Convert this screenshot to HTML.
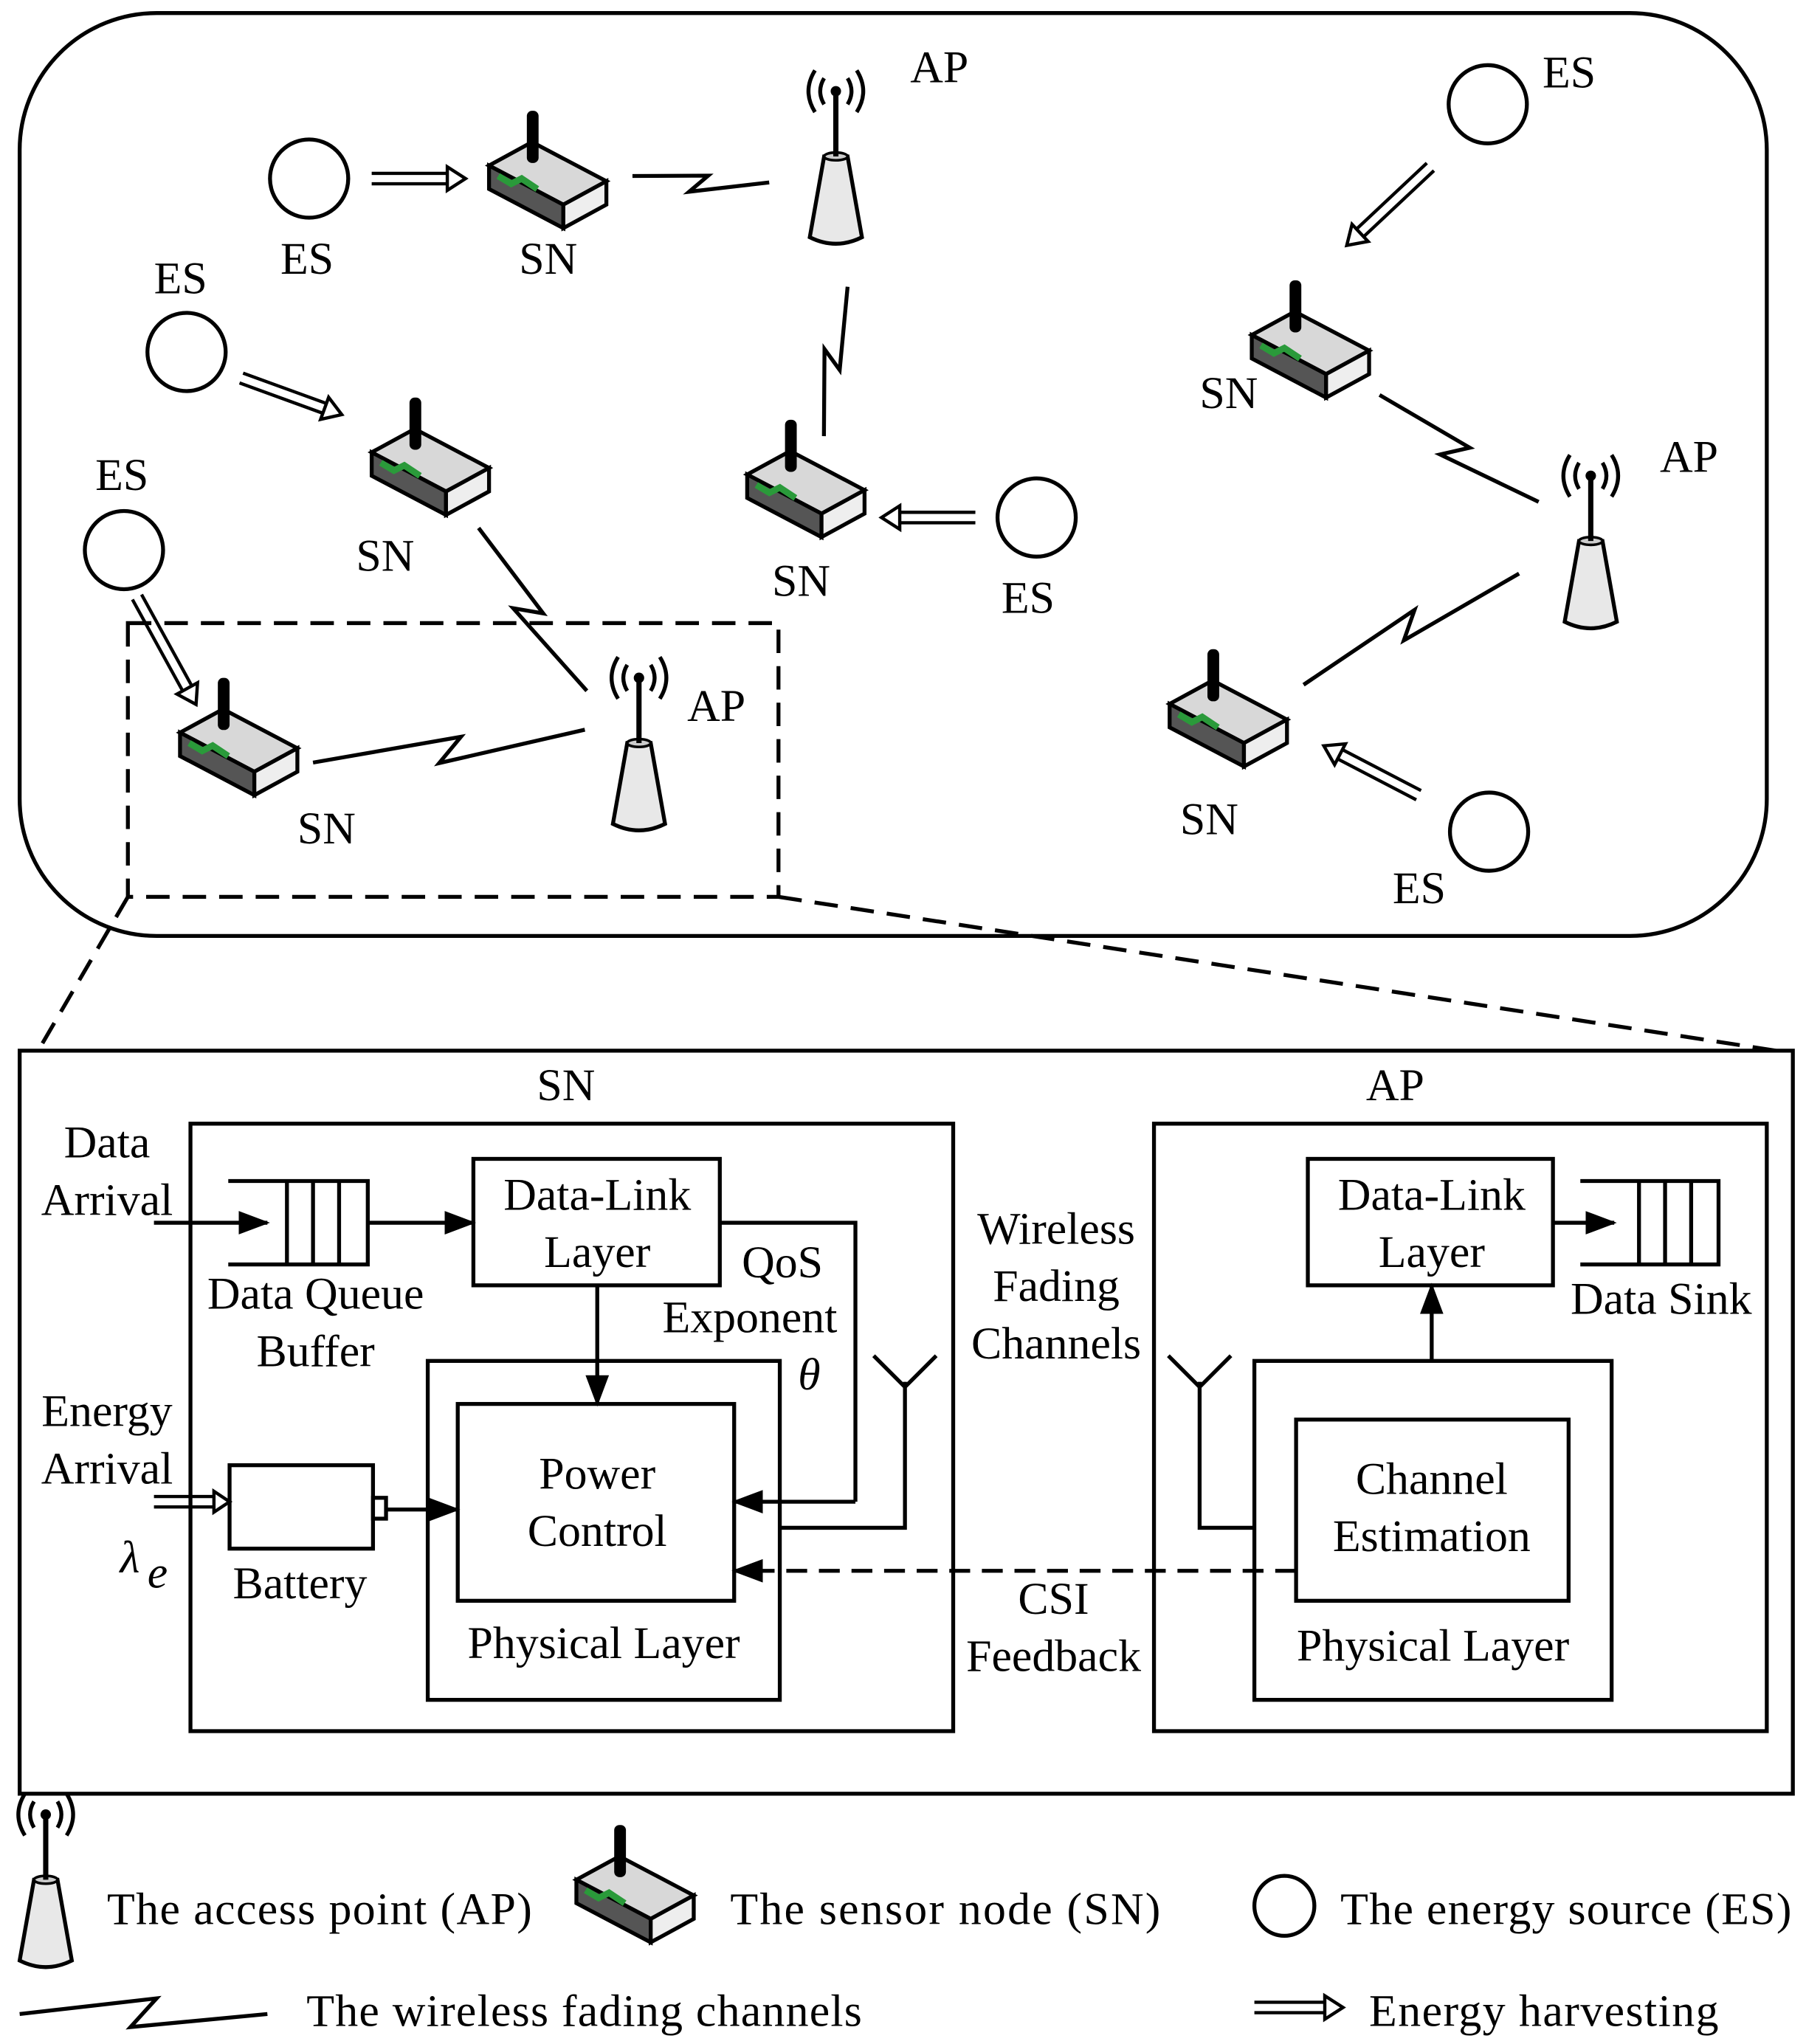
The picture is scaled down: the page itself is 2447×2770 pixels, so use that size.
<!DOCTYPE html>
<html><head><meta charset="utf-8"><style>
html,body{margin:0;padding:0;background:#fff}
svg{display:block}
text{font-family:"Liberation Serif",serif;font-size:35px;fill:#000}
</style></head><body>
<svg width="2447" height="2770" viewBox="0 0 1385 1568" xmlns="http://www.w3.org/2000/svg">
<defs>
<marker id="ahb" markerWidth="24" markerHeight="18" refX="22" refY="9" orient="auto" markerUnits="userSpaceOnUse" viewBox="0 0 24 18"><path d="M0,0 L24,9 L0,18 z" fill="#000"/></marker>
<g id="sn">
<polygon points="-45,-8 -12,-26 45,4 12,22" fill="#d8d8d8" stroke="#000" stroke-width="3"/>
<polygon points="-45,-8 12,22 12,40 -45,10" fill="#555" stroke="#000" stroke-width="3"/>
<polygon points="12,22 45,4 45,22 12,40" fill="#eee" stroke="#000" stroke-width="3"/>
<path d="M-38,0 L-28,6 L-20,2 L-8,10" stroke="#2a9a3a" stroke-width="5" fill="none"/>
<rect x="-16" y="-50" width="9" height="40" rx="4" fill="#000"/>
</g>
<g id="ap">
<path d="M-9,-20 L9,-20 L20,42 Q0,52 -20,42 Z" fill="#e8e8e8" stroke="#000" stroke-width="3"/>
<ellipse cx="0" cy="-20" rx="9" ry="3" fill="#ccc" stroke="#000" stroke-width="2"/>
<line x1="0" y1="-20" x2="0" y2="-68" stroke="#000" stroke-width="4"/>
<circle cx="0" cy="-70" r="4" fill="#000"/>
<path d="M-9,-80 Q-15,-70 -9,-60 M9,-80 Q15,-70 9,-60 M-16,-86 Q-26,-70 -16,-54 M16,-86 Q26,-70 16,-54" stroke="#000" stroke-width="3" fill="none"/>
</g>
</defs>

<rect x="15" y="10" width="1340" height="708" rx="105" fill="none" stroke="#000" stroke-width="3"/>
<rect x="98" y="478" width="499" height="210" fill="none" stroke="#000" stroke-width="3" stroke-dasharray="18,10"/>
<line x1="98" y1="688" x2="28" y2="808" stroke="#000" stroke-width="3" stroke-dasharray="18,10"/>
<line x1="597" y1="688" x2="1362" y2="806" stroke="#000" stroke-width="3" stroke-dasharray="18,10"/>

<g fill="none" stroke="#000" stroke-width="3">
<circle cx="237" cy="137" r="30"/><circle cx="143" cy="270" r="30"/><circle cx="95" cy="422" r="30"/>
<circle cx="795" cy="397" r="30"/><circle cx="1141" cy="80" r="30"/><circle cx="1142" cy="638" r="30"/>
<circle cx="985" cy="1462" r="23"/>
</g>

<g stroke="#000" stroke-width="3" fill="none">
<path transform="translate(485,135) rotate(2.7)" d="M0,0 L58,-3 L44,10 L105,0"/>
<path transform="translate(650,220) rotate(99)" d="M0,0 L64,-4 L50,10 L116,0"/>
<path transform="translate(367,405) rotate(56.4)" d="M0,0 L82,-5 L66,12 L150,0"/>
<path transform="translate(240,585) rotate(-6.9)" d="M0,0 L115,-6 L96,12 L210,0"/>
<path transform="translate(1058,303) rotate(33.9)" d="M0,0 L80,-5 L64,12 L147,0"/>
<path transform="translate(1165,440) rotate(152.7)" d="M0,0 L102,-5 L84,12 L186,0"/>
<path transform="translate(15,1545)" d="M0,0 L105,-12 L85,10 L190,0"/>
</g>

<g stroke="#000" stroke-width="2.5" fill="#fff">
<g transform="translate(285,137) rotate(0)"><path d="M0,-4 L60,-4 M0,4 L60,4" /><path d="M58,-9 L72,0 L58,9 Z"/></g>
<g transform="translate(185,290) rotate(20)"><path d="M0,-4 L70,-4 M0,4 L70,4" /><path d="M68,-9 L82,0 L68,9 Z"/></g>
<g transform="translate(105,458) rotate(61.2)"><path d="M0,-4 L82,-4 M0,4 L82,4" /><path d="M80,-9 L94,0 L80,9 Z"/></g>
<g transform="translate(748,397) rotate(180)"><path d="M0,-4 L60,-4 M0,4 L60,4" /><path d="M58,-9 L72,0 L58,9 Z"/></g>
<g transform="translate(1097,128) rotate(136.8)"><path d="M0,-4 L76,-4 M0,4 L76,4" /><path d="M74,-9 L88,0 L74,9 Z"/></g>
<g transform="translate(1088,610) rotate(207.5)"><path d="M0,-4 L70,-4 M0,4 L70,4" /><path d="M68,-9 L82,0 L68,9 Z"/></g>
<g transform="translate(962,1540)"><path d="M0,-4 L56,-4 M0,4 L56,4" /><path d="M54,-9 L68,0 L54,9 Z"/></g>
<g transform="translate(118,1152)"><path d="M0,-4 L46,-4 M0,4 L46,4" /><path d="M46,-8 L58,0 L46,8 Z"/></g>
</g>

<use href="#sn" x="420" y="135"/><use href="#sn" x="330" y="355"/><use href="#sn" x="618" y="372"/>
<use href="#sn" x="183" y="570"/><use href="#sn" x="1005" y="265"/><use href="#sn" x="942" y="548"/>
<use href="#sn" x="487" y="1450"/>
<use href="#ap" x="641" y="140"/><use href="#ap" x="490" y="590"/><use href="#ap" x="1220" y="435"/><use href="#ap" x="35" y="1462"/>

<text x="698" y="63">AP</text><text x="1183" y="67">ES</text>
<text x="215" y="210">ES</text><text x="398" y="210">SN</text>
<text x="118" y="225">ES</text><text x="920" y="313">SN</text><text x="1273" y="362">AP</text>
<text x="73" y="376">ES</text><text x="273" y="438">SN</text><text x="592" y="457">SN</text><text x="768" y="470">ES</text>
<text x="527" y="553">AP</text><text x="228" y="647">SN</text><text x="905" y="640">SN</text><text x="1068" y="693">ES</text>

<g fill="none" stroke="#000" stroke-width="3">
<rect x="15" y="806" width="1360" height="570"/>
<rect x="146" y="862" width="585" height="466"/>
<rect x="885" y="862" width="470" height="466"/>
<rect x="328" y="1044" width="270" height="260"/>
<rect x="351" y="1077" width="212" height="151"/>
<rect x="363" y="889" width="189" height="97"/>
<rect x="1003" y="889" width="188" height="97"/>
<rect x="962" y="1044" width="274" height="260"/>
<rect x="994" y="1089" width="209" height="139"/>
<path d="M175,906 L282,906 L282,970 L175,970 M220,906 L220,970 M240,906 L240,970 M260,906 L260,970"/>
<path d="M1212,906 L1318,906 L1318,970 L1212,970 M1257,906 L1257,970 M1277,906 L1277,970 M1297,906 L1297,970"/>
<rect x="176" y="1124" width="110" height="64"/>
<rect x="286" y="1149" width="10" height="16"/>
<path d="M552,938 L656,938 L656,1152"/>
<path d="M598,1172 L694,1172 L694,1060 M670,1040 L694,1064 L718,1040"/>
<path d="M962,1172 L920,1172 L920,1060 M896,1040 L920,1064 L944,1040"/>
</g>
<g stroke="#000" stroke-width="3" fill="none" marker-end="url(#ahb)">
<line x1="118" y1="938" x2="205" y2="938"/>
<line x1="282" y1="938" x2="363" y2="938"/>
<line x1="458" y1="986" x2="458" y2="1077"/>
<line x1="656" y1="1152" x2="563" y2="1152"/>
<line x1="296" y1="1158" x2="351" y2="1158"/>
<line x1="1098" y1="1044" x2="1098" y2="986"/>
<line x1="1191" y1="938" x2="1238" y2="938"/>
<line x1="994" y1="1205" x2="563" y2="1205" stroke-dasharray="16,9"/>
</g>

<text x="434" y="844" text-anchor="middle">SN</text>
<text x="1070" y="844" text-anchor="middle">AP</text>
<text x="82" y="888" text-anchor="middle">Data</text><text x="82" y="932" text-anchor="middle">Arrival</text>
<text x="458" y="928" text-anchor="middle">Data-Link</text><text x="458" y="972" text-anchor="middle">Layer</text>
<text x="600" y="980" text-anchor="middle">QoS</text><text x="575" y="1022" text-anchor="middle">Exponent</text>
<text x="612" y="1066" font-style="italic">θ</text>
<text x="242" y="1004" text-anchor="middle">Data Queue</text><text x="242" y="1048" text-anchor="middle">Buffer</text>
<text x="82" y="1094" text-anchor="middle">Energy</text><text x="82" y="1138" text-anchor="middle">Arrival</text>
<text x="92" y="1206" font-style="italic">λ</text><text x="113" y="1218" font-size="22" font-style="italic">e</text>
<text x="230" y="1226" text-anchor="middle">Battery</text>
<text x="458" y="1142" text-anchor="middle">Power</text><text x="458" y="1186" text-anchor="middle">Control</text>
<text x="463" y="1272" text-anchor="middle">Physical Layer</text>
<text x="810" y="954" text-anchor="middle">Wireless</text><text x="810" y="998" text-anchor="middle">Fading</text><text x="810" y="1042" text-anchor="middle">Channels</text>
<text x="808" y="1238" text-anchor="middle">CSI</text><text x="808" y="1282" text-anchor="middle">Feedback</text>
<text x="1098" y="928" text-anchor="middle">Data-Link</text><text x="1098" y="972" text-anchor="middle">Layer</text>
<text x="1274" y="1008" text-anchor="middle">Data Sink</text>
<text x="1098" y="1146" text-anchor="middle">Channel</text><text x="1098" y="1190" text-anchor="middle">Estimation</text>
<text x="1099" y="1274" text-anchor="middle">Physical Layer</text>

<text x="82" y="1476" textLength="326">The access point (AP)</text>
<text x="560" y="1476" textLength="330">The sensor node  (SN)</text>
<text x="1028" y="1476" textLength="346">The energy source (ES)</text>
<text x="235" y="1554" textLength="426">The wireless fading channels</text>
<text x="1050" y="1554" textLength="268">Energy harvesting</text>
</svg>
</body></html>
